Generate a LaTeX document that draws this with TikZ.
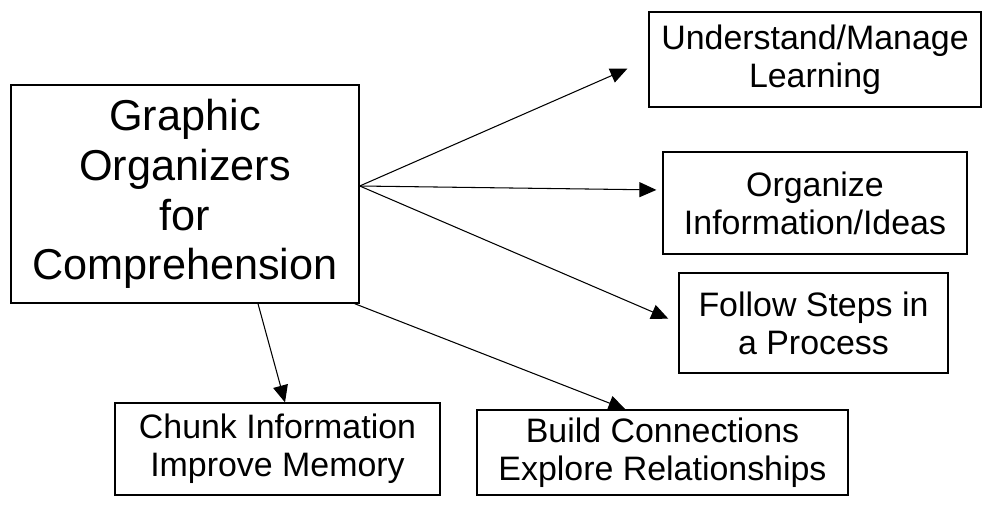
\documentclass[tikz,border=0pt]{standalone}
\usepackage{fontspec}
\setmainfont{Liberation Sans}
\usetikzlibrary{arrows.meta, positioning}

\begin{document}
\begin{tikzpicture}[
  mainbox/.style={rectangle, draw=black, line width=0.8pt, minimum width=6.96cm, minimum height=4.36cm, align=center, font=\fontsize{24.6}{28.3}\selectfont},
  goal/.style={rectangle, draw=black, line width=0.7pt, align=center, font=\fontsize{19.3}{21.5}\selectfont},
  arrow/.style={-{Triangle[length=0.34cm, width=0.3cm]}, line width=0.6pt}
]
\useasboundingbox (0,0) rectangle (19.66,10.1);

\node[mainbox] (go_main) at (3.70,6.22) {Graphic\\ Organizers\\ for\\ Comprehension};

\node[goal, minimum width=6.64cm, minimum height=1.90cm] (und_box) at (16.30,8.91) {Understand/Manage\\ Learning};
\node[goal, minimum width=6.08cm, minimum height=2.04cm] (org_box) at (16.30,6.04) {Organize\\ Information/Ideas};
\node[goal, minimum width=5.38cm, minimum height=2.00cm] (fol_box) at (16.27,3.64) {Follow Steps in\\ a Process};
\node[goal, minimum width=6.50cm, minimum height=1.84cm] (chunk_box) at (5.55,1.12) {Chunk Information\\ Improve Memory};
\node[goal, minimum width=7.42cm, minimum height=1.70cm] (build_box) at (13.25,1.05) {Build Connections\\ Explore Relationships};

\coordinate (hub) at ([yshift=0.16cm]go_main.east);

\draw[arrow, shorten >=0.46cm] (hub) -- (und_box.west);
\draw[arrow, shorten >=0.12cm] (hub) -- ([yshift=0.26cm]org_box.west);
\draw[arrow, shorten >=0.22cm] (hub) -- (fol_box.west);
\draw[arrow] ([xshift=-0.1cm]go_main.south east) -- ([xshift=-0.74cm]build_box.north);
\draw[arrow] ([xshift=1.46cm]go_main.south) -- ([xshift=0.15cm]chunk_box.north);

\end{tikzpicture}
\end{document}
